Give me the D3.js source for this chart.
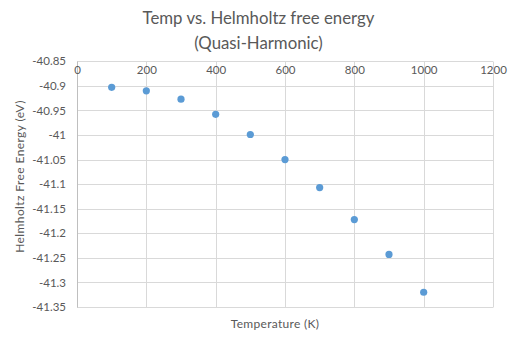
<!DOCTYPE html>
<html>
<head>
<meta charset="utf-8">
<script src="https://cdn.jsdelivr.net/npm/d3@7"></script>
<style>
  html, body { margin: 0; padding: 0; background: #fff; }
  svg { display: block; font-family: Lato, "Open Sans", sans-serif; }
</style>
</head>
<body>
<svg id="chart" width="517" height="341"></svg>
<script>
// Temperature (K)
const temperatures = [100, 200, 300, 400, 500, 600, 700, 800, 900, 1000];
// Helmholtz free energy (eV), quasi-harmonic approximation
const freeEnergy = [-40.903, -40.910, -40.927, -40.958, -40.999, -41.050, -41.107, -41.172, -41.243, -41.320];

const xTicks = [0, 200, 400, 600, 800, 1000, 1200];
const yTicks = [-40.85, -40.9, -40.95, -41, -41.05, -41.1, -41.15, -41.2, -41.25, -41.3, -41.35];
const xTickLabels = ["0", "200", "400", "600", "800", "1000", "1200"];
const yTickLabels = ["-40.85", "-40.9", "-40.95", "-41", "-41.05", "-41.1", "-41.15", "-41.2", "-41.25", "-41.3", "-41.35"];

const svg = d3.select("#chart");
const plotLeft = 77, plotRight = 493, plotTop = 61.3, plotBottom = 307;
const textColor = "#595959";
const gridColor = "#d9d9d9";

const x = d3.scaleLinear().domain([0, 1200]).range([plotLeft, plotRight]);
const y = d3.scaleLinear().domain([-40.85, -41.35]).range([plotTop, plotBottom]);

// Title
const title = svg.append("text")
  .attr("text-anchor", "middle")
  .attr("fill", textColor).attr("font-size", 16.8);
title.append("tspan").attr("x", 258.5).attr("y", 24).text("Temp vs. Helmholtz free energy");
title.append("tspan").attr("x", 258.5).attr("y", 49).text("(Quasi-Harmonic)");

// Horizontal gridlines
svg.append("g")
  .selectAll("line")
  .data(yTicks)
  .join("line")
  .attr("x1", plotLeft).attr("x2", plotRight)
  .attr("y1", d => Math.round(y(d)) + 0.5).attr("y2", d => Math.round(y(d)) + 0.5)
  .attr("stroke", gridColor).attr("stroke-width", 1);

// Vertical gridlines
svg.append("g")
  .selectAll("line")
  .data(xTicks)
  .join("line")
  .attr("x1", d => Math.round(x(d)) + 0.5).attr("x2", d => Math.round(x(d)) + 0.5)
  .attr("y1", Math.round(plotTop) + 0.5).attr("y2", Math.round(plotBottom) + 0.5)
  .attr("stroke", d => d === 0 ? "#bfbfbf" : gridColor).attr("stroke-width", 1);

// Y axis labels
const yAxis = d3.axisLeft(y)
  .tickValues(yTicks)
  .tickSize(0)
  .tickPadding(11)
  .tickFormat((d, i) => yTickLabels[i]);
const gy = svg.append("g").attr("transform", `translate(${plotLeft},0)`).call(yAxis);
gy.select(".domain").remove();
gy.selectAll("text").attr("fill", textColor).attr("font-size", 11.5)
  .attr("font-family", "Lato, 'Open Sans', sans-serif");

// X axis labels, drawn just below the top edge of the plot
const xAxis = d3.axisBottom(x)
  .tickValues(xTicks)
  .tickSize(0)
  .tickPadding(5)
  .tickFormat((d, i) => xTickLabels[i]);
const gx = svg.append("g").attr("transform", `translate(0,${plotTop})`).call(xAxis);
gx.select(".domain").remove();
gx.selectAll("text").attr("fill", textColor).attr("font-size", 11.5)
  .attr("font-family", "Lato, 'Open Sans', sans-serif");

// Points
svg.append("g")
  .selectAll("circle")
  .data(temperatures)
  .join("circle")
  .attr("cx", d => x(d))
  .attr("cy", (d, i) => y(freeEnergy[i]))
  .attr("r", 3.6)
  .attr("fill", "#5b9bd5");

// Axis titles
svg.append("text")
  .attr("x", 275).attr("y", 328)
  .attr("text-anchor", "middle").attr("fill", textColor).attr("font-size", 12)
  .attr("letter-spacing", 0.3)
  .text("Temperature (K)");

svg.append("text")
  .attr("transform", "translate(24,176.5) rotate(-90)")
  .attr("text-anchor", "middle").attr("fill", textColor).attr("font-size", 12)
  .attr("letter-spacing", 0.4)
  .text("Helmholtz Free Energy (eV)");
</script>
</body>
</html>
